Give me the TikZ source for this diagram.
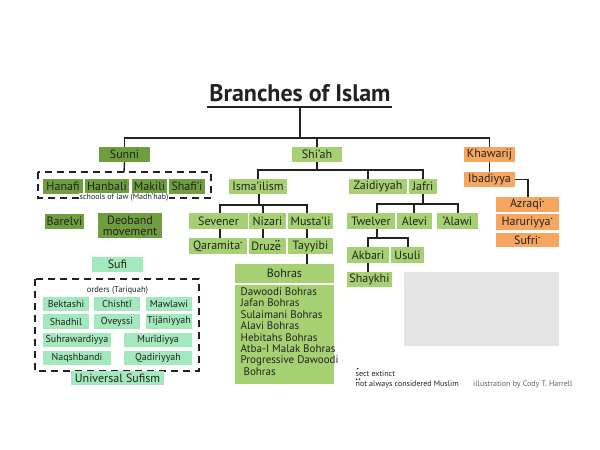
\documentclass[tikz,border=0pt]{standalone}
\usepackage{fontspec}
\setmainfont{PT Sans}
\usetikzlibrary{calc}
\definecolor{dkg}{HTML}{6E9E3E}
\definecolor{ltg}{HTML}{A6D173}
\definecolor{org}{HTML}{F7A660}
\definecolor{mnt}{HTML}{A4E9BD}
\definecolor{gry}{HTML}{E5E5E5}
\definecolor{ink}{HTML}{222222}
\newcommand{\ext}{\textsuperscript{\fontsize{5}{5}\selectfont\textbullet}}
\begin{document}
\begin{tikzpicture}[x=1pt,y=-1pt,
  box/.style={inner sep=0pt,text=ink,font=\fontsize{12}{12}\selectfont,anchor=center},
  sb/.style={box,font=\fontsize{10}{10}\selectfont},
  lk/.style={draw=ink,line width=1.4pt},
  dot/.style={fill=ink,draw=none},
  fn/.style={anchor=west,inner sep=0pt,text=ink,font=\fontsize{8}{8}\selectfont},
  dbox/.style={draw=ink,line width=1.6pt,dash pattern=on 7pt off 5pt}]
\useasboundingbox[fill=white] (0,0) rectangle (600,450);
% title
\node[inner sep=0pt,text=ink,font=\fontsize{24}{26}\selectfont\bfseries] (title) at (300,93) {Branches of Islam};
\coordinate (ul) at (300,107);
\draw[lk] (207,107) -- (392,107);
% dashed boxes
\draw[dbox] (38,172) rectangle (211,198);
\draw[dbox] (35,279) rectangle (199,371);
% Sunni
\node[box,fill=dkg,minimum width=51,minimum height=15] (sunni) at (124.5,154.5) {Sunni};
\node[box,fill=dkg,minimum width=40,minimum height=15] (hanafi) at (63,186.5) {Hanafi};
\node[box,fill=dkg,minimum width=44,minimum height=15] (hanbali) at (107,186.5) {Hanbali};
\node[box,fill=dkg,minimum width=35,minimum height=15] (makili) at (149.5,186.5) {Makili};
\node[box,fill=dkg,minimum width=36,minimum height=15] (shafii) at (187,186.5) {Shafi’i};
\node[inner sep=1pt,fill=white,text=ink,font=\fontsize{8}{8}\selectfont] (schools) at (124,198) {schools of law (Madh’hab)};
\node[box,fill=dkg,minimum width=39,minimum height=15] (barelvi) at (64.5,221.5) {Barelvi};
\node[box,fill=dkg,minimum width=64,minimum height=25,align=center,font=\fontsize{12}{11}\selectfont] (deoband) at (130,225.5) {Deoband\\movement};
% Shi'ah
\node[box,fill=ltg,minimum width=50,minimum height=15] (shiah) at (317,154.5) {Shi’ah};
\node[box,fill=ltg,minimum width=58,minimum height=15] (ismail) at (258,186.5) {Isma’ilism};
\node[box,fill=ltg,minimum width=58,minimum height=15] (zaid) at (378,186.5) {Zaidiyyah};
\node[box,fill=ltg,minimum width=28,minimum height=15] (jafri) at (423,186.5) {Jafri};
\node[box,fill=ltg,minimum width=59,minimum height=16] (sevener) at (218.5,221) {Sevener};
\node[box,fill=ltg,minimum width=37,minimum height=16] (nizari) at (267.5,221) {Nizari};
\node[box,fill=ltg,minimum width=45,minimum height=16] (mustali) at (310.5,221) {Musta’li};
\node[box,fill=ltg,minimum width=58,minimum height=16] (qaramita) at (218,246) {Qaramita\ext};
\node[box,fill=ltg,minimum width=37,minimum height=16] (druze) at (267.5,246) {Druze\phantom{.}};
\fill[dot] ($(druze.center)+(8.6,-5.2)$) circle (0.9) ($(druze.center)+(11.2,-5.2)$) circle (0.9);
\node[box,fill=ltg,minimum width=45,minimum height=16] (tayyibi) at (310.5,246) {Tayyibi};
\node[box,fill=ltg,minimum width=99,minimum height=19] (bohras) at (284.5,273.5) {Bohras};
\node[fill=ltg,minimum width=99,minimum height=99,inner sep=0pt] (blist) at (284.5,334.5) {};
\node[anchor=north west,inner sep=0pt,text=ink,align=left,font=\fontsize{11}{11.4}\selectfont] (blisttext) at (240.5,287.5) {Dawoodi Bohras\\Jafan Bohras\\Sulaimani Bohras\\Alavi Bohras\\Hebitahs Bohras\\Atba-I Malak Bohras\\Progressive Dawoodi\\\ Bohras};
\node[box,fill=ltg,minimum width=48,minimum height=16] (twelver) at (371,221) {Twelver};
\node[box,fill=ltg,minimum width=35,minimum height=16] (alevi) at (414.5,221) {Alevi};
\node[box,fill=ltg,minimum width=41,minimum height=16] (alawi) at (457.5,221) {‘Alawi};
\node[box,fill=ltg,minimum width=42,minimum height=16] (akbari) at (368,255) {Akbari};
\node[box,fill=ltg,minimum width=33,minimum height=16] (usuli) at (407.5,255) {Usuli};
\node[box,fill=ltg,minimum width=45,minimum height=15] (shaykhi) at (369.5,279.5) {Shaykhi};
\fill[gry] (404,272) rectangle (559,346);
% Khawarij
\node[box,fill=org,minimum width=51,minimum height=15] (khawarij) at (489.5,154.5) {Khawarij};
\node[box,fill=org,minimum width=51,minimum height=15] (ibadiyya) at (489.5,179.5) {Ibadiyya};
\node[box,fill=org,minimum width=63,minimum height=15] (azraqi) at (527.5,204.5) {Azraqi\ext};
\node[box,fill=org,minimum width=63,minimum height=16] (haruriyya) at (527.5,222) {Haruriyya\ext};
\node[box,fill=org,minimum width=63,minimum height=14] (sufri) at (527.5,240) {Sufri\ext};
% Sufi
\node[box,fill=mnt,minimum width=51,minimum height=15] (sufi) at (117.5,264.5) {Sufi};
\node[inner sep=0pt,text=ink,font=\fontsize{8.5}{9}\selectfont] (orders) at (117.5,290.5) {orders (Tariquah)};
\node[sb,fill=mnt,minimum width=46,minimum height=14] (bektashi) at (66,304) {Bektashi};
\node[sb,fill=mnt,minimum width=46,minimum height=14] (chishti) at (117,304) {Chishtī};
\node[sb,fill=mnt,minimum width=46,minimum height=14] (mawlawi) at (169,304) {Mawlawi};
\node[sb,fill=mnt,minimum width=46,minimum height=15] (shadhil) at (66,321.5) {Shadhil};
\node[sb,fill=mnt,minimum width=46,minimum height=15] (oveyssi) at (117,321.5) {Oveyssi};
\node[sb,fill=mnt,minimum width=46,minimum height=15] (tijani) at (169,321.5) {Tijāniyyah};
\node[sb,fill=mnt,minimum width=68,minimum height=14] (suhra) at (77,340) {Suhrawardiyya};
\node[sb,fill=mnt,minimum width=68,minimum height=14] (murid) at (158,340) {Murīdiyya};
\node[sb,fill=mnt,minimum width=68,minimum height=14] (naqsh) at (77,358) {Naqshbandi};
\node[sb,fill=mnt,minimum width=68,minimum height=14] (qadir) at (158,358) {Qadiriyyah};
\node[box,fill=mnt,minimum width=93,minimum height=14] (universal) at (117.5,378) {Universal Sufism};
% footnotes
\node[fn] (fn1) at (355.5,373.5) {sect extinct};
\node[fn] (fn2) at (355.5,384) {not always considered Muslim};
\node[fn,text=ink!70] (credit) at (473,384) {illustration by Cody T. Harrell};
\fill[dot] (357.6,368.6) circle (0.9);
\fill[dot] (356.6,379.2) circle (0.9) (359.4,379.2) circle (0.9);
% connectors
\coordinate (top) at (300,138);
\draw[lk] (ul) -- (top);
\draw[lk] (sunni.north) -- (sunni.north |- top) -| (khawarij.north);
\draw[lk] (shiah.north) -- (shiah.north |- top);
\coordinate (dtop) at (124,172);
\draw[lk] (sunni.south) -- (dtop);
\draw[lk] (shiah.south) -- (317,170);
\draw[lk] (ismail.north) |- (423,170) -- (jafri.north);
\draw[lk] (368,170) -- (368,179);
\draw[lk] (259,194) -- (259,205);
\draw[lk] (220,213) -- (220,205) -- (307,205) -- (307,213);
\draw[lk] (263,205) -- (263,213);
\draw[lk] (220,229) -- (220,238);
\draw[lk] (263,229) -- (263,238);
\draw[lk] (307,229) -- (307,238);
\draw[lk] (307,254) -- (307,264);
\draw[lk] (jafri.south) -- (423,204);
\draw[lk] (377,213) -- (377,204) -- (458,204) -- (458,213);
\draw[lk] (414,204) -- (414,213);
\draw[lk] (377,229) -- (377,238);
\draw[lk] (368,247) -- (368,238) -- (408,238) -- (408,247);
\draw[lk] (368,263) -- (368,272);
\draw[lk] (khawarij.south) -- (ibadiyya.north);
\draw[lk] (ibadiyya.east) -- (528,179.5) -- (azraqi.north -| 528,0);
\end{tikzpicture}
\end{document}
